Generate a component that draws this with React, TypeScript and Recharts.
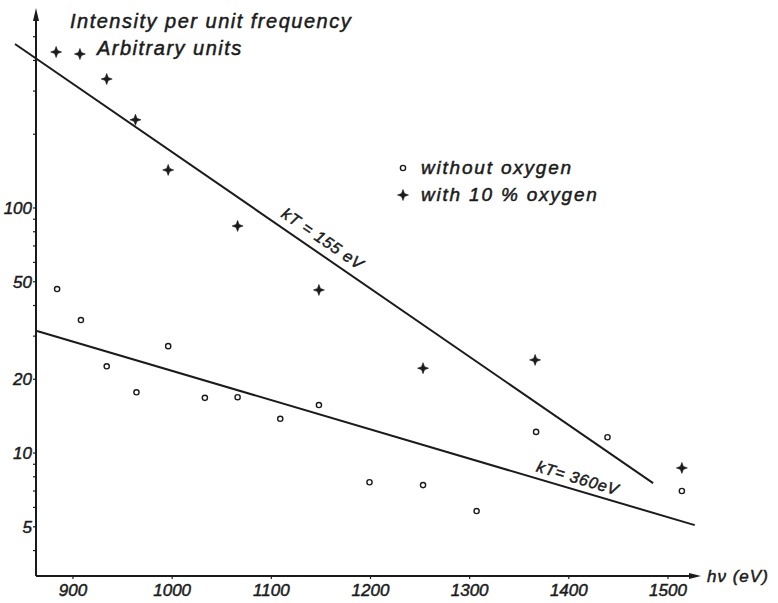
import React from "react";
import {
  Legend,
  ReferenceDot,
  ReferenceLine,
  Scatter,
  ScatterChart,
  XAxis,
  YAxis,
} from "recharts";

// photon energy hν in eV, intensity in arbitrary units
const withoutOxygen = [
  { x: 884, y: 46.7 },
  { x: 908, y: 34.9 },
  { x: 934, y: 22.6 },
  { x: 964, y: 17.7 },
  { x: 996, y: 27.3 },
  { x: 1033, y: 16.8 },
  { x: 1066, y: 16.9 },
  { x: 1109, y: 13.8 },
  { x: 1148, y: 15.7 },
  { x: 1199, y: 7.6 },
  { x: 1253, y: 7.4 },
  { x: 1307, y: 5.8 },
  { x: 1367, y: 12.2 },
  { x: 1439, y: 11.6 },
  { x: 1514, y: 7.0 },
];

const withOxygen = [
  { x: 883, y: 433 },
  { x: 907, y: 425 },
  { x: 934, y: 336 },
  { x: 963, y: 229 },
  { x: 996, y: 143 },
  { x: 1066, y: 84.5 },
  { x: 1148, y: 46.3 },
  { x: 1253, y: 22.2 },
  { x: 1366, y: 24.0 },
  { x: 1514, y: 8.7 },
];

// straight-line fits on the log plot: endpoints of each fit
const fit155 = [
  { x: 841.5, y: 467 },
  { x: 1485, y: 7.54 },
];
const fit360 = [
  { x: 863.7, y: 31.5 },
  { x: 1527, y: 5.08 },
];

const seriesNames = ["without oxygen", "with 10 % oxygen"];
const xDomain = [862.7, 1522.2];
const yDomain = [3.15, 585];
const xTicks = [900, 1000, 1100, 1200, 1300, 1400, 1500];
const yTicks = [4, 5, 6, 7, 8, 9, 10, 20, 30, 40, 50, 60, 70, 80, 90, 100, 200, 300, 400, 500];
const yLabelled = [5, 10, 20, 50, 100];

const INK = "#1b1b1b";
const FONT = "'Liberation Sans', Arial, sans-serif";

const textStyle = {
  fontFamily: FONT,
  fontStyle: "italic",
  fill: INK,
  stroke: INK,
  strokeWidth: 0.5,
} as const;

function Dot(props: any) {
  const { cx, cy } = props;
  return <circle cx={cx} cy={cy} r={2.6} fill="#fff" stroke={INK} strokeWidth={1.4} />;
}

function Star(props: any) {
  const { cx, cy } = props;
  const r = 5.5;
  const i = 1.5;
  const d =
    `M${cx},${cy - r} L${cx + i},${cy - i} L${cx + r},${cy} L${cx + i},${cy + i} ` +
    `L${cx},${cy + r} L${cx - i},${cy + i} L${cx - r},${cy} L${cx - i},${cy - i} Z`;
  return <path d={d} fill={INK} stroke={INK} strokeWidth={0.6} />;
}

// arrowheads closing the two axes
function ArrowUp(props: any) {
  const { cx, cy } = props;
  return <path d={`M${cx - 3},${cy + 1} L${cx},${cy - 12} L${cx + 3},${cy + 1} Z`} fill={INK} />;
}

function ArrowRight(props: any) {
  const { cx, cy } = props;
  return <path d={`M${cx - 1},${cy - 3} L${cx + 11},${cy} L${cx - 1},${cy + 3} Z`} fill={INK} />;
}

// rotated label sitting just above a fit line
function FitLabel(props: any) {
  const { viewBox, text, at, lift } = props;
  if (!viewBox) return null;
  const { x, y, width, height } = viewBox;
  const a = Math.atan2(height, width);
  const cx = x + width * at + Math.sin(a) * lift;
  const cy = y + height * at - Math.cos(a) * lift;
  return (
    <text
      x={cx}
      y={cy}
      transform={`rotate(${(a * 180) / Math.PI} ${cx} ${cy})`}
      textAnchor="middle"
      dominantBaseline="central"
      fontSize={16}
      letterSpacing={0.8}
      {...textStyle}
    >
      {text}
    </text>
  );
}

function TitleLabel(props: any) {
  const { viewBox } = props;
  if (!viewBox) return null;
  const x0 = viewBox.x + viewBox.width;
  const y0 = viewBox.y;
  return (
    <g>
      <text x={x0 + 34} y={y0 + 8} fontSize={20} letterSpacing={1.5} {...textStyle}>
        Intensity per unit frequency
      </text>
      <text x={x0 + 61} y={y0 + 35} fontSize={20} letterSpacing={1.5} {...textStyle}>
        Arbitrary units
      </text>
    </g>
  );
}

function EnergyLabel(props: any) {
  const { viewBox } = props;
  if (!viewBox) return null;
  return (
    <text
      x={viewBox.x + viewBox.width + 17}
      y={viewBox.y + 6}
      fontSize={17}
      letterSpacing={1}
      {...textStyle}
    >
      hν (eV)
    </text>
  );
}

function KeyContent(props: any) {
  const items = [...(props.payload || [])].sort(
    (a: any, b: any) => seriesNames.indexOf(a.value) - seriesNames.indexOf(b.value)
  );
  return (
    <div style={{ fontFamily: FONT, fontStyle: "italic", color: INK }}>
      {items.map((p: any) => (
        <div
          key={p.value}
          style={{
            display: "flex",
            alignItems: "center",
            height: 27,
            fontSize: 19,
            letterSpacing: 1.8,
            WebkitTextStroke: "0.5px " + INK,
          }}
        >
          <svg width={14} height={14} style={{ marginRight: 11 }}>
            {p.value === seriesNames[0] ? <Dot cx={7} cy={7} /> : <Star cx={7} cy={7} />}
          </svg>
          {p.value}
        </div>
      ))}
    </div>
  );
}

export default function App() {
  return (
    <div style={{ width: 778, height: 603, background: "#fff" }}>
      <style>{"body{margin:0}"}</style>
      <ScatterChart width={778} height={603} margin={{ top: 20, right: 88, bottom: 0, left: 6 }}>
        <XAxis
          type="number"
          dataKey="x"
          domain={xDomain}
          allowDataOverflow
          ticks={xTicks}
          interval={0}
          height={27}
          axisLine={{ stroke: INK, strokeWidth: 2 }}
          tickLine={{ stroke: INK, strokeWidth: 1.2 }}
          tickSize={3}
          tickMargin={5}
          tick={{ fontSize: 17, ...textStyle }}
          label={<EnergyLabel />}
        />
        <YAxis
          type="number"
          dataKey="y"
          scale="log"
          domain={yDomain}
          allowDataOverflow
          ticks={yTicks}
          interval={0}
          width={30}
          axisLine={{ stroke: INK, strokeWidth: 2 }}
          tickLine={{ stroke: INK, strokeWidth: 1.2 }}
          tickSize={3}
          tickMargin={1}
          tickFormatter={(v: number) => (yLabelled.includes(v) ? String(v) : "")}
          tick={{ fontSize: 17, ...textStyle }}
          label={<TitleLabel />}
        />
        <ReferenceDot x={xDomain[0]} y={yDomain[1]} ifOverflow="visible" shape={<ArrowUp />} />
        <ReferenceDot x={xDomain[1]} y={yDomain[0]} ifOverflow="visible" shape={<ArrowRight />} />
        <ReferenceLine
          segment={fit155}
          ifOverflow="visible"
          stroke={INK}
          strokeWidth={2}
          label={<FitLabel text="kT = 155 eV" at={0.47} lift={14} />}
        />
        <ReferenceLine
          segment={fit360}
          ifOverflow="visible"
          stroke={INK}
          strokeWidth={2}
          label={<FitLabel text="kT= 360eV" at={0.817} lift={12} />}
        />
        <Scatter name={seriesNames[0]} data={withoutOxygen} shape={<Dot />} isAnimationActive={false} />
        <Scatter name={seriesNames[1]} data={withOxygen} shape={<Star />} isAnimationActive={false} />
        <Legend
          layout="vertical"
          align="center"
          verticalAlign="middle"
          content={<KeyContent />}
          wrapperStyle={{ left: 396, top: 154, width: 280, bottom: "auto" }}
        />
      </ScatterChart>
    </div>
  );
}
